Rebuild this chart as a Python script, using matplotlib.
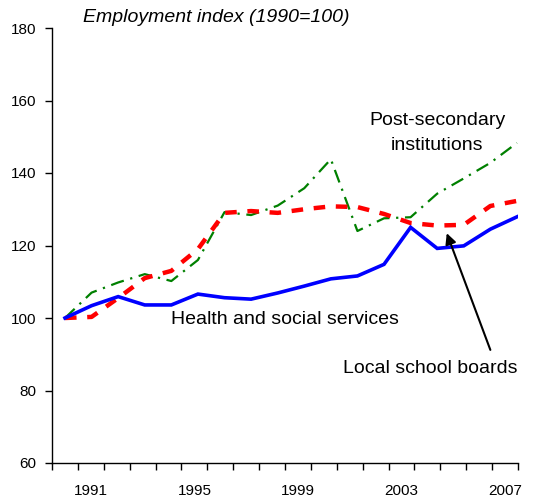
import numpy as np
import matplotlib
matplotlib.use("Agg")
import matplotlib.pyplot as plt

plt.rcParams['font.family'] = ['Liberation Sans', 'DejaVu Sans']

years = list(range(1990, 2008))
health = [100, 103.4, 105.9, 103.6, 103.6, 106.6, 105.6, 105.2, 106.9, 108.8,
          110.8, 111.6, 114.8, 125.0, 119.2, 119.9, 124.5, 127.9]
school = [100, 100.3, 105.5, 111.0, 113.0, 119.0, 129.0, 129.5, 129.0, 130.0,
          130.8, 130.6, 128.7, 126.2, 125.5, 125.7, 130.9, 132.3]
postsec = [100, 107.0, 109.8, 112.1, 110.2, 116.0, 129.2, 128.4, 131.0, 135.8,
           143.8, 124.0, 127.5, 127.8, 134.3, 138.5, 142.8, 148.3]
tick_labels = ['1991', '1995', '1999', '2003', '2007']

fig = plt.figure(figsize=(5.35, 4.97), dpi=100)
ax = fig.add_axes([52/535, 34/497, 466/535, 435/497])

ax.plot(years, postsec, color='#008000', lw=1.6, ls=(0, (6, 3, 1, 3)))
ax.plot(years, school, color='#ff0000', lw=3.2, ls=(0, (2.6, 2.4)))
ax.plot(years, health, color='#0000ff', lw=2.6, solid_joinstyle='miter')

x0, x1 = 1990 - 13/26.6, 2007.04
ax.set_xlim(x0, x1)
ax.set_ylim(60, 180)

# category boundaries as tick marks, labels centred in the slots
edges = np.linspace(x0, x1, len(years) + 1)
ax.set_xticks(edges)
ax.set_xticklabels([])
centers = (edges[:-1] + edges[1:]) / 2
lab_pos = [centers[years.index(int(t))] for t in tick_labels]
ax.set_xticks(lab_pos, minor=True)
ax.set_xticklabels(tick_labels, minor=True)
ax.tick_params(axis='x', which='minor', length=0, pad=15, labelsize=11)
ax.tick_params(axis='x', which='major', length=5, width=1)

ax.set_yticks(range(60, 181, 20))
ax.tick_params(axis='y', length=5, width=1, pad=6, labelsize=11)

for s in ['top', 'right']:
    ax.spines[s].set_visible(False)
for s in ['left', 'bottom']:
    ax.spines[s].set_linewidth(1)

ax.text(0.066, 1.023, 'Employment index (1990=100)', transform=ax.transAxes,
        fontsize=14, style='italic', ha='left', va='center')
ax.text(2004.0, 151, 'Post-secondary\ninstitutions', fontsize=14,
        ha='center', va='center', linespacing=1.65)
ax.text(1994.0, 99.5, 'Health and social services', fontsize=14,
        ha='left', va='center')
ax.text(2000.45, 86, 'Local school boards', fontsize=14, ha='left', va='center')
ax.annotate('', xy=(2004.36, 123.4), xytext=(2006.0, 91.2),
            arrowprops=dict(arrowstyle='-|>', color='black', lw=1.5,
                            mutation_scale=16, shrinkA=0, shrinkB=0))

fig.savefig('out.png', dpi=100)
